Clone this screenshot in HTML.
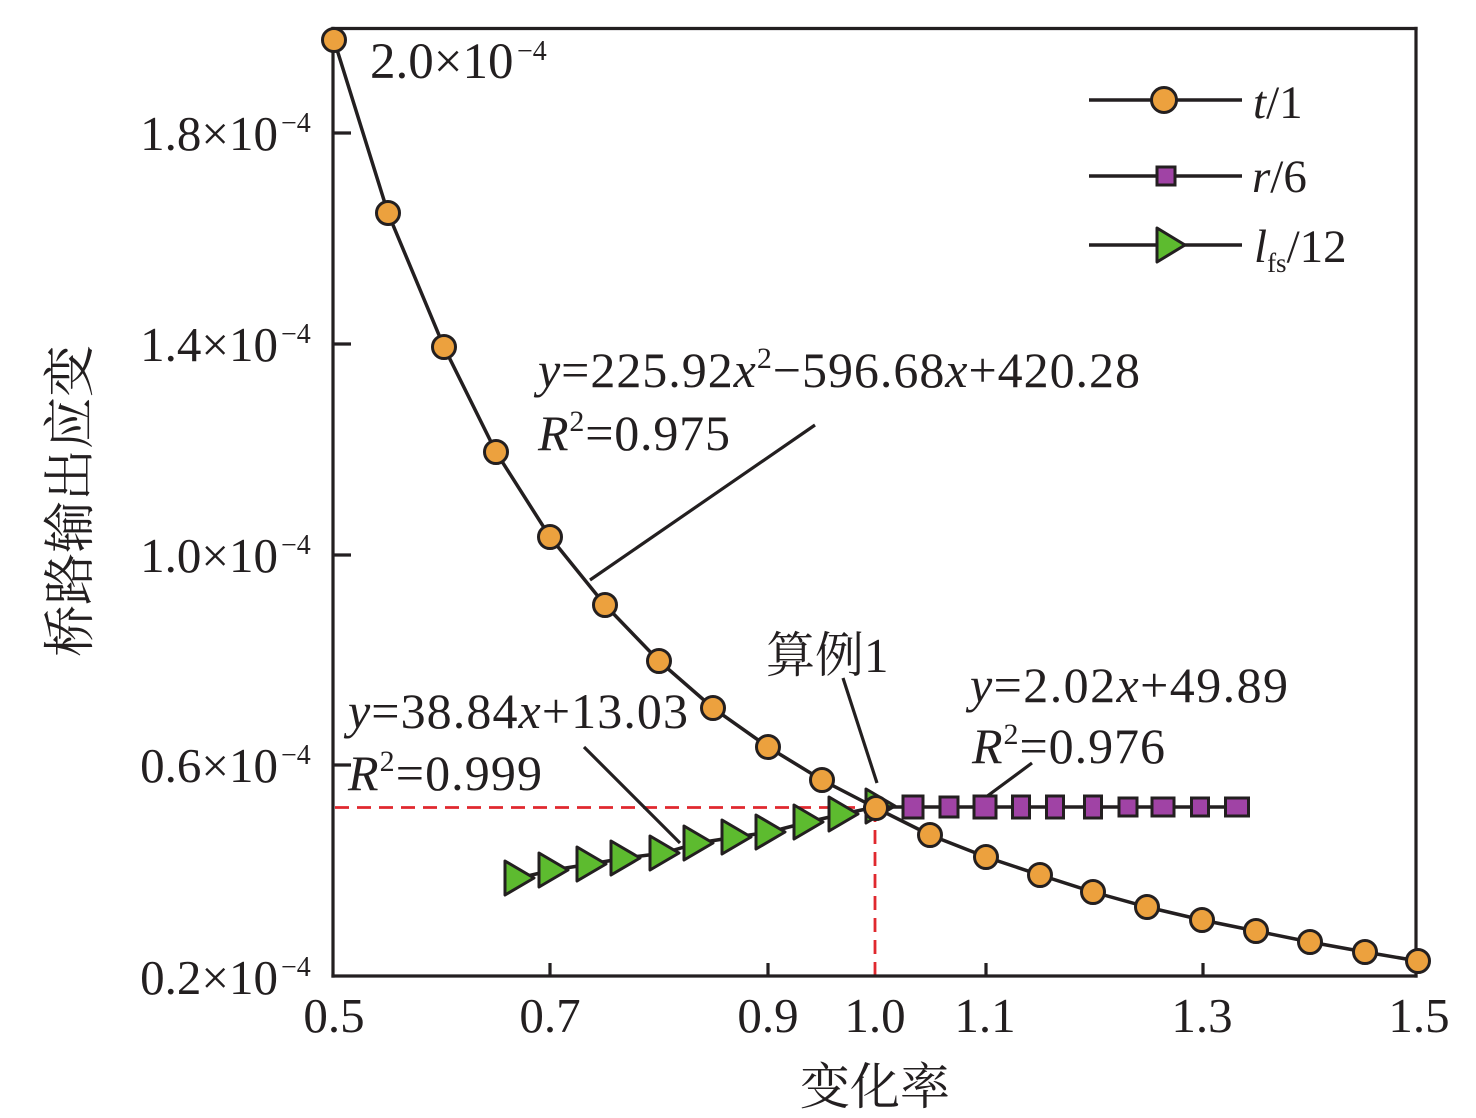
<!DOCTYPE html>
<html>
<head>
<meta charset="utf-8">
<style>
  html,body{margin:0;padding:0;background:#fff;}
  svg{display:block;}
  text{font-family:"Liberation Serif","Noto Serif CJK SC",serif;fill:#231f20;}
  .cjk{font-family:"Liberation Serif","Noto Serif CJK SC",serif;}
  .it{font-style:italic;}
</style>
</head>
<body>
<svg width="1476" height="1118" viewBox="0 0 1476 1118" xmlns="http://www.w3.org/2000/svg">
  <rect width="1476" height="1118" fill="#fff"/>

  <!-- red dashed guide lines -->
  <g stroke="#e0282e" stroke-width="2.8" stroke-dasharray="14,8" fill="none">
    <line x1="335" y1="807.5" x2="876" y2="807.5"/>
    <line x1="875" y1="808" x2="875" y2="975"/>
  </g>

  <!-- axes frame -->
  <g stroke="#231f20" stroke-width="3.2" fill="none" stroke-linecap="square">
    <line x1="333" y1="28.5" x2="1416" y2="28.5"/>
    <line x1="1416" y1="28.5" x2="1416" y2="976"/>
    <line x1="333" y1="976" x2="1416" y2="976"/>
    <line x1="333" y1="28.5" x2="333" y2="976"/>
  </g>
  <!-- ticks -->
  <g stroke="#231f20" stroke-width="3.2" fill="none">
    <line x1="333" y1="133" x2="351" y2="133"/>
    <line x1="333" y1="344" x2="351" y2="344"/>
    <line x1="333" y1="555" x2="351" y2="555"/>
    <line x1="333" y1="765" x2="351" y2="765"/>
    <line x1="550" y1="976" x2="550" y2="963"/>
    <line x1="768" y1="976" x2="768" y2="963"/>
    <line x1="986" y1="976" x2="986" y2="963"/>
    <line x1="1203" y1="976" x2="1203" y2="963"/>
  </g>

  <!-- y tick labels -->
  <g font-size="49">
    <text x="278" y="150" text-anchor="end">1.8×10</text>
    <text x="281" y="132" font-size="28">−4</text>
    <text x="278" y="361" text-anchor="end">1.4×10</text>
    <text x="281" y="343" font-size="28">−4</text>
    <text x="278" y="572" text-anchor="end">1.0×10</text>
    <text x="281" y="554" font-size="28">−4</text>
    <text x="278" y="782" text-anchor="end">0.6×10</text>
    <text x="281" y="764" font-size="28">−4</text>
    <text x="278" y="994" text-anchor="end">0.2×10</text>
    <text x="281" y="976" font-size="28">−4</text>
  </g>

  <!-- x tick labels -->
  <g font-size="49" text-anchor="middle">
    <text x="334" y="1032">0.5</text>
    <text x="550" y="1032">0.7</text>
    <text x="768" y="1032">0.9</text>
    <text x="875" y="1032">1.0</text>
    <text x="985" y="1032">1.1</text>
    <text x="1202" y="1032">1.3</text>
    <text x="1419" y="1032">1.5</text>
  </g>

  <!-- axis titles -->
  <text class="cjk" x="875" y="1104" font-size="50" text-anchor="middle">变化率</text>
  <text class="cjk" transform="translate(88,501) rotate(-90)" x="0" y="0" font-size="52" text-anchor="middle">桥路输出应变</text>

  <!-- top annotation -->
  <text x="370" y="78" font-size="51">2.0×10</text>
  <text x="517" y="60" font-size="28">−4</text>

  <!-- leader lines -->
  <g stroke="#231f20" stroke-width="3.2" fill="none">
    <line x1="815" y1="425" x2="590" y2="580"/>
    <line x1="843" y1="678" x2="877" y2="783"/>
    <line x1="1032" y1="763" x2="986" y2="797"/>
    <line x1="584" y1="747" x2="680" y2="843"/>
  </g>

  <!-- equations -->
  <text x="538" y="387" font-size="50" textLength="602" lengthAdjust="spacing"><tspan class="it">y</tspan>=225.92<tspan class="it">x</tspan><tspan font-size="30" dy="-19">2</tspan><tspan dy="19">−596.68</tspan><tspan class="it">x</tspan>+420.28</text>
  <text x="538" y="450" font-size="50" textLength="192" lengthAdjust="spacing"><tspan class="it">R</tspan><tspan font-size="30" dy="-19">2</tspan><tspan dy="19">=0.975</tspan></text>

  <text x="348" y="728" font-size="50" textLength="340" lengthAdjust="spacing"><tspan class="it">y</tspan>=38.84<tspan class="it">x</tspan>+13.03</text>
  <text x="348" y="790" font-size="50" textLength="194" lengthAdjust="spacing"><tspan class="it">R</tspan><tspan font-size="30" dy="-19">2</tspan><tspan dy="19">=0.999</tspan></text>

  <text x="970" y="702" font-size="50" textLength="318" lengthAdjust="spacing"><tspan class="it">y</tspan>=2.02<tspan class="it">x</tspan>+49.89</text>
  <text x="972" y="763" font-size="50" textLength="193" lengthAdjust="spacing"><tspan class="it">R</tspan><tspan font-size="30" dy="-19">2</tspan><tspan dy="19">=0.976</tspan></text>

  <text class="cjk" x="766" y="672" font-size="49">算例1</text>

  <!-- series: lfs/12 (green triangles) -->
  <polyline fill="none" stroke="#231f20" stroke-width="3.5"
    points="519,878 553,870 591,864 625,858 664,853 698,843 736,837 770,832 808,822 843,814 880,806"/>
  <g fill="#5dbb2f" stroke="#231f20" stroke-width="3" stroke-linejoin="round">
    <polygon points="505,861 534,878 505,895"/>
    <polygon points="539,853 568,870 539,887"/>
    <polygon points="577,847 606,864 577,881"/>
    <polygon points="611,841 640,858 611,875"/>
    <polygon points="650,836 679,853 650,870"/>
    <polygon points="684,826 713,843 684,860"/>
    <polygon points="722,820 751,837 722,854"/>
    <polygon points="756,815 785,832 756,849"/>
    <polygon points="794,805 823,822 794,839"/>
    <polygon points="829,797 858,814 829,831"/>
    <polygon points="866,789 895,806 866,823"/>
  </g>

  <!-- series: r/6 (purple squares) -->
  <polyline fill="none" stroke="#231f20" stroke-width="3.5"
    points="880,807 1237,807"/>
  <g fill="#a043a5" stroke="#231f20" stroke-width="3">
    <rect x="903" y="796" width="20" height="22"/>
    <rect x="940" y="797" width="18" height="20"/>
    <rect x="974" y="796" width="22" height="22"/>
    <rect x="1012.5" y="796" width="17" height="22"/>
    <rect x="1046.5" y="796" width="17" height="22"/>
    <rect x="1084.5" y="796" width="17" height="22"/>
    <rect x="1119" y="798" width="18" height="18"/>
    <rect x="1152" y="798" width="22" height="18"/>
    <rect x="1191.5" y="798" width="17" height="18"/>
    <rect x="1225.5" y="798" width="23" height="18"/>
  </g>

  <!-- series: t/1 (orange circles) -->
  <polyline fill="none" stroke="#231f20" stroke-width="3.5"
    points="334,40 388,213 444,347 496,452 550,537 605,605 659,661 713,708 768,747 822,780 876,808 930,835 986,857 1040,875 1093,892 1147,907 1202,920 1256,931 1310,942 1365,952 1418,961"/>
  <g fill="#eca13e" stroke="#231f20" stroke-width="3">
    <circle cx="334" cy="40" r="11.5"/>
    <circle cx="388" cy="213" r="11.5"/>
    <circle cx="444" cy="347" r="11.5"/>
    <circle cx="496" cy="452" r="11.5"/>
    <circle cx="550" cy="537" r="11.5"/>
    <circle cx="605" cy="605" r="11.5"/>
    <circle cx="659" cy="661" r="11.5"/>
    <circle cx="713" cy="708" r="11.5"/>
    <circle cx="768" cy="747" r="11.5"/>
    <circle cx="822" cy="780" r="11.5"/>
    <circle cx="876" cy="808" r="11.5"/>
    <circle cx="930" cy="835" r="11.5"/>
    <circle cx="986" cy="857" r="11.5"/>
    <circle cx="1040" cy="875" r="11.5"/>
    <circle cx="1093" cy="892" r="11.5"/>
    <circle cx="1147" cy="907" r="11.5"/>
    <circle cx="1202" cy="920" r="11.5"/>
    <circle cx="1256" cy="931" r="11.5"/>
    <circle cx="1310" cy="942" r="11.5"/>
    <circle cx="1365" cy="952" r="11.5"/>
    <circle cx="1418" cy="961" r="11.5"/>
  </g>

  <!-- legend -->
  <g stroke="#231f20" stroke-width="3.5">
    <line x1="1089" y1="100" x2="1242" y2="100"/>
    <line x1="1089" y1="176" x2="1242" y2="176"/>
    <line x1="1089" y1="245" x2="1242" y2="245"/>
  </g>
  <circle cx="1164" cy="100" r="12.5" fill="#eca13e" stroke="#231f20" stroke-width="3"/>
  <rect x="1157" y="167" width="18" height="18" fill="#a043a5" stroke="#231f20" stroke-width="3"/>
  <polygon points="1157,228 1185,245 1157,262" fill="#5dbb2f" stroke="#231f20" stroke-width="3" stroke-linejoin="round"/>

  <g font-size="47">
    <text x="1253" y="118"><tspan class="it">t</tspan>/1</text>
    <text x="1252" y="192"><tspan class="it">r</tspan>/6</text>
    <text x="1254" y="262"><tspan class="it">l</tspan><tspan font-size="27" dy="10">fs</tspan><tspan dy="-10">/12</tspan></text>
  </g>
</svg>
</body>
</html>
